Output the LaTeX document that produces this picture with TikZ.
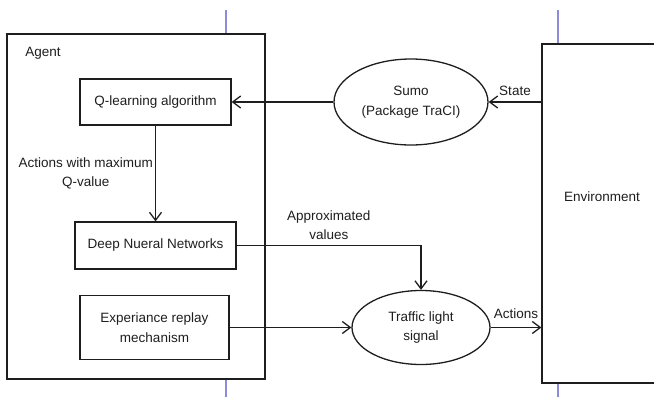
\documentclass[tikz,border=0pt]{standalone}
\usepackage{fontspec}
\setmainfont{Liberation Sans}
\usepackage{tikz}
\usepackage{xcolor}
\usetikzlibrary{arrows.meta,positioning,shapes.geometric,calc}
\definecolor{Ink}{HTML}{1E1E1E}
\definecolor{MarkBlue}{HTML}{8C8CD8}

\begin{document}
\begin{tikzpicture}[x=1pt,y=-1pt,
  every node/.style={font=\fontsize{13.5}{19.5}\selectfont,text=Ink},
  box/.style={draw=Ink,line width=1.3pt,inner sep=0pt,align=center},
  oval/.style={ellipse,draw=Ink,line width=1.3pt,inner sep=0pt,align=center},
  lbl/.style={inner sep=0pt,align=center},
  arr/.style={-{Straight Barb[length=8pt,width=12pt]},line width=1.3pt,draw=Ink},
  pagemark/.style={draw=MarkBlue,line width=1.3pt}
]
\useasboundingbox (0,0) rectangle (654,397);
\draw[pagemark] (226,10) -- (226,34);
\draw[pagemark] (558,10) -- (558,44);
\draw[pagemark] (226,379) -- (226,397);
\draw[pagemark] (558,383) -- (558,397);
\node[box,minimum width=258,minimum height=345] (agent) at (136,206.5) {};
\node[lbl] (agentlbl) at (43,53) {Agent};
\node[box,minimum width=151,minimum height=46] (qlearn) at (155.5,102) {Q-learning algorithm};
\node[box,minimum width=161,minimum height=47] (dnn) at (155.5,245.5) {Deep Nueral Networks};
\node[box,minimum width=149,minimum height=64] (exp) at (154.5,327.5) {Experiance replay\\mechanism};
\node[oval,minimum width=154,minimum height=86] (sumo) at (411,102) {Sumo\\(Package TraCI)};
\node[oval,minimum width=138,minimum height=74] (traffic) at (421,327.5) {Traffic light\\signal};
\node[box,minimum width=120,minimum height=339] (env) at (602,213.5) {};
\node[lbl] (envlbl) at (602,197) {Environment};
\draw[arr] (env.west |- sumo) -- (sumo) node[lbl,midway,above=6pt] {State};
\draw[arr] (sumo) -- (qlearn);
\draw[arr] (qlearn) -- (dnn) node[lbl,midway,left=2pt] {Actions with maximum\\Q-value};
\draw[arr] (dnn) -| (traffic) node[lbl,pos=0.25,above=5pt] {Approximated\\values};
\draw[arr] (exp) -- (traffic);
\draw[arr] (traffic) -- (env.west |- traffic) node[lbl,midway,above=8pt] {Actions};
\end{tikzpicture}
\end{document}
